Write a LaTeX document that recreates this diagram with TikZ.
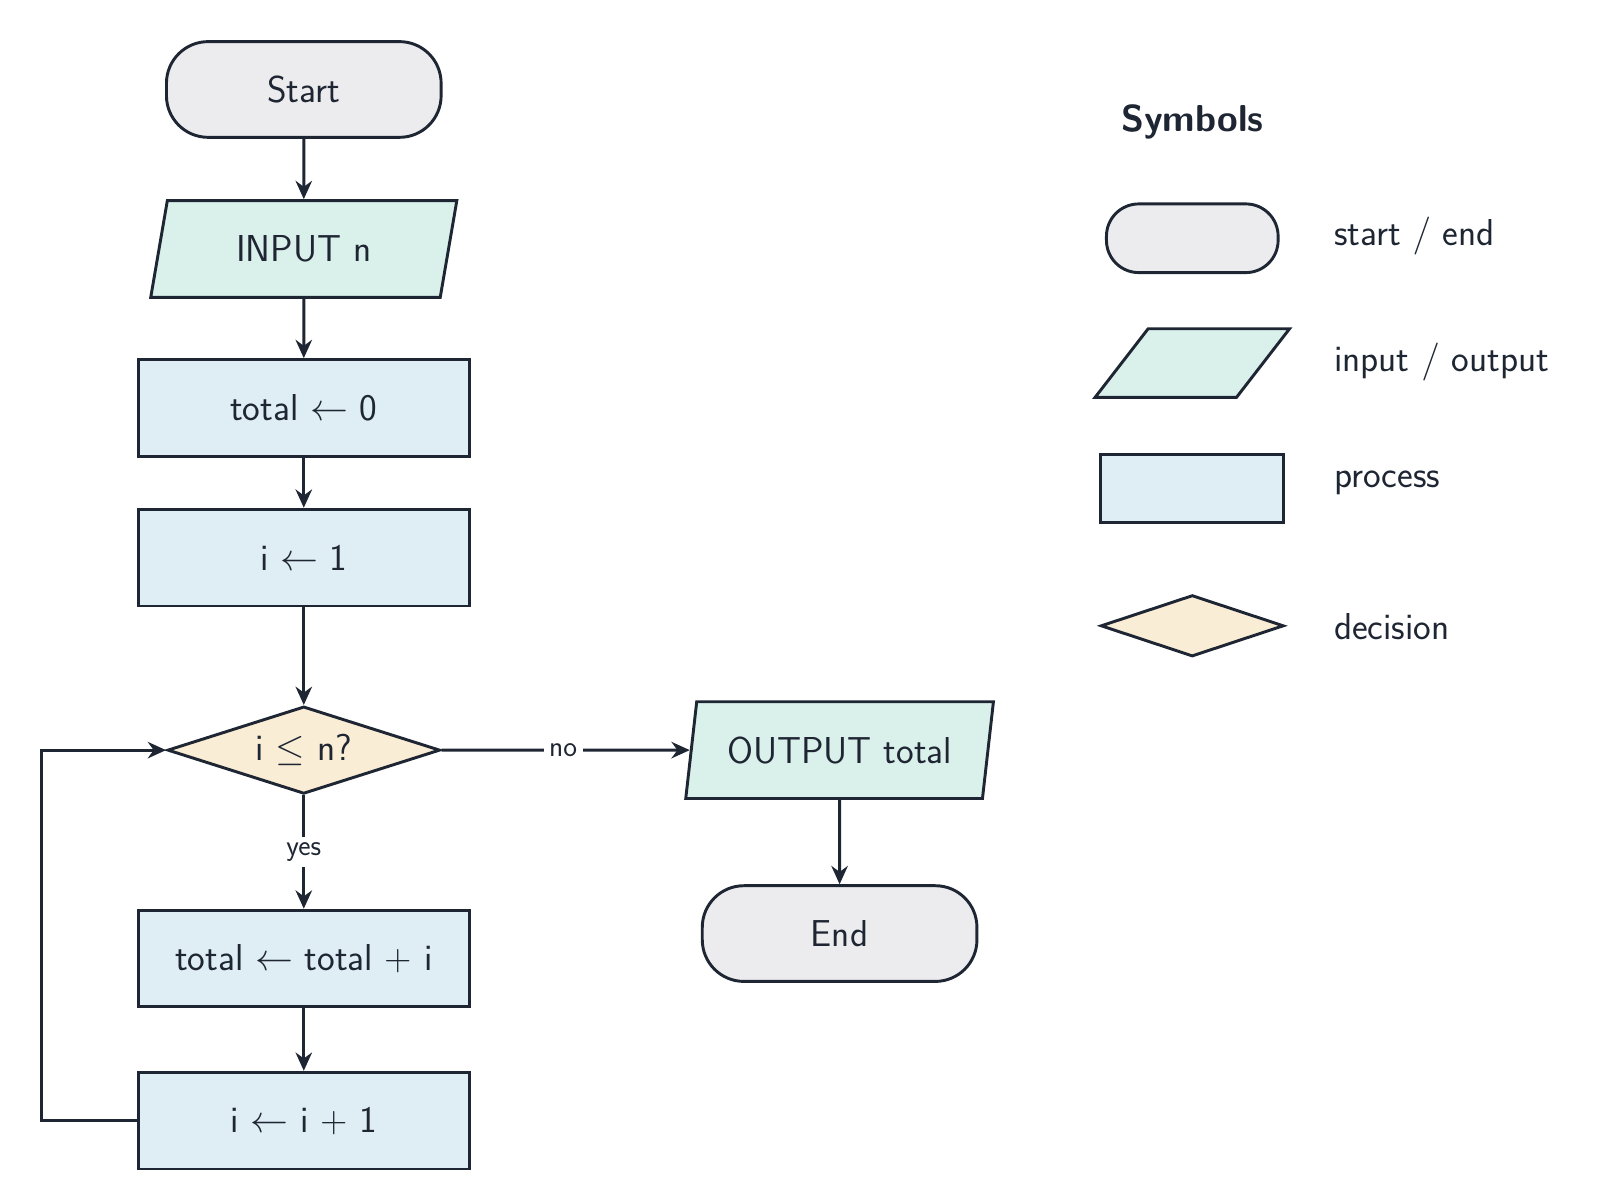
\documentclass[tikz,border=0pt]{standalone}
\usepackage{amsmath}
\usepackage{tikz}
\usetikzlibrary{positioning, shapes.geometric, arrows.meta}
\renewcommand{\familydefault}{\sfdefault}
\definecolor{ink}{HTML}{1F2633}
\definecolor{termfill}{HTML}{ECECEE}
\definecolor{iofill}{HTML}{DAF0EA}
\definecolor{procfill}{HTML}{DFEDF4}
\definecolor{decfill}{HTML}{FAEDD6}

\begin{document}
\begin{tikzpicture}[->, >={Stealth[length=10pt,width=9pt]}, line width=1.6pt, draw=ink, text=ink,
  font=\fontsize{20.5}{24}\selectfont]
\tikzstyle{every node}=[draw=ink, line width=1.6pt]
\tikzstyle{term}=[rectangle, rounded corners=0.8cm, fill=termfill, minimum width=5.28cm, minimum height=1.84cm]
\tikzstyle{io}=[trapezium, trapezium left angle=77, trapezium right angle=103, trapezium stretches=true, fill=iofill, minimum width=5.92cm, minimum height=1.86cm]
\tikzstyle{proc}=[rectangle, fill=procfill, minimum width=6.36cm, minimum height=1.86cm]
\tikzstyle{dec}=[diamond, aspect=3.1, fill=decfill, inner sep=0pt, minimum width=5.24cm, minimum height=1.68cm]
\tikzstyle{lbl}=[draw=none, fill=white, inner sep=3pt, font=\fontsize{16}{19}\selectfont]
\tikzstyle{key}=[draw=none, anchor=west]
\useasboundingbox (0,0) rectangle (31.2,-23.06);
% main flow
\node[term] (start) at (5.84,-1.72) {Start};
\node[io]   (input) [below=1.16cm of start] {INPUT n};
\node[proc] (init)  [below=1.14cm of input] {total $\leftarrow$ 0};
\node[proc] (seti)  [below=0.96cm of init]  {i $\leftarrow$ 1};
\node[dec]  (test)  at (5.84,-14.42)        {i $\leq$ n?};
\node[proc] (add)   [below=2.18cm of test]  {total $\leftarrow$ total + i};
\node[proc] (inc)   [below=1.2cm of add]    {i $\leftarrow$ i + 1};
\node[io]   (out)   at (16.14,-14.42)       {OUTPUT total};
\node[term] (stop)  [below=1.62cm of out]   {End};
\coordinate (back) at (0.8,0);
\path
(start) edge (input)
(input) edge (init)
(init)  edge (seti)
(seti)  edge (test)
(test)  edge node[lbl]{yes} (add)
        edge node[lbl, pos=0.49]{no} (out)
(add)   edge (inc)
(out)   edge (stop);
\draw (inc.west) -- (back |- inc.west) -- (back |- test.west) -- (test.west);
% legend
\node[draw=none, font=\fontsize{20.5}{24}\selectfont\bfseries] (symb) at (22.92,-2.34) {Symbols};
\node[term, rounded corners=0.62cm, minimum width=3.3cm, minimum height=1.32cm] (kterm) at (22.92,-4.58) {};
\node[io, trapezium left angle=59, trapezium right angle=121, minimum width=3.74cm, minimum height=1.32cm] (kio) at (22.92,-6.98) {};
\node[proc, minimum width=3.52cm, minimum height=1.3cm] (kproc) at (22.92,-9.39) {};
\node[dec, minimum width=3.52cm, minimum height=1.18cm] (kdec) at (22.92,-12.03) {};
\node[key] (tterm) at (25.5,-4.54)  {start $/$ end};
\node[key] (tio)   at (25.5,-6.96)  {input $/$ output};
\node[key] (tproc) at (25.5,-9.28)  {process};
\node[key] (tdec)  at (25.5,-12.04) {decision};
\end{tikzpicture}
\end{document}
